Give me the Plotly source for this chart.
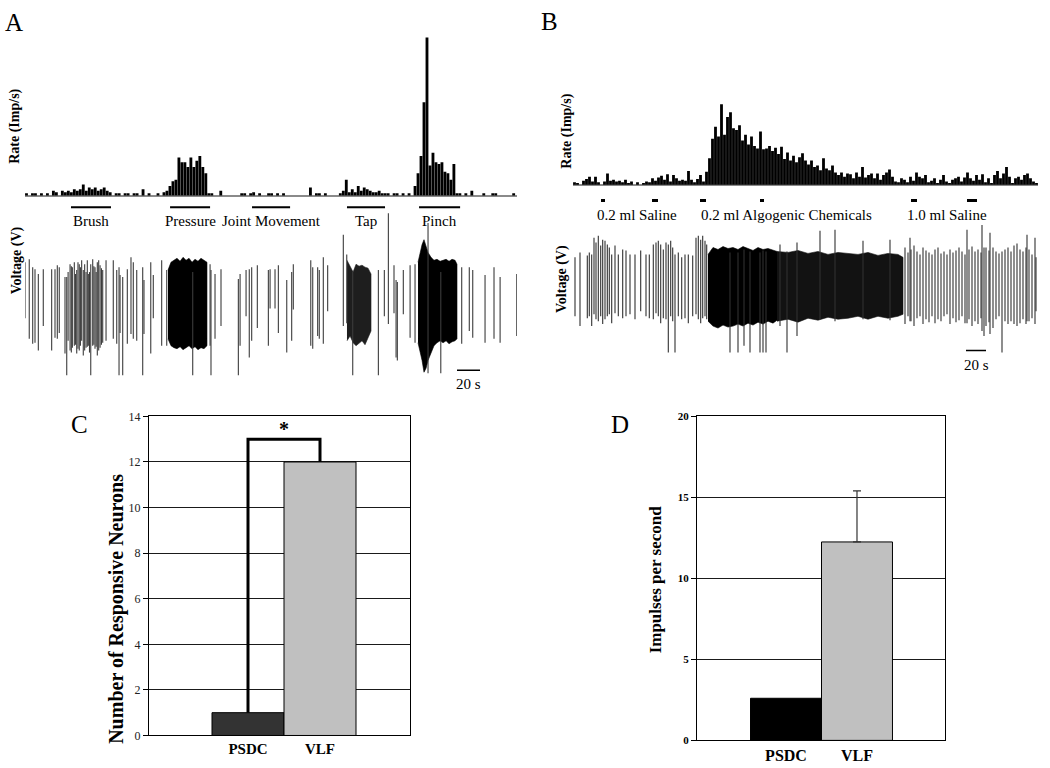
import plotly.graph_objects as go

W, H = 1050, 768
SERIF = "Liberation Serif"

# ---------------- DATA ----------------
# Panel A: rate histogram (relative units, peak = 100), bins of 2.6 s
a_bin_s = 2.6
a_rate = [1.5, 0, 1.5, 1.5, 0, 1.5, 0, 1.5, 0,
          3, 2, 0, 3, 2, 3, 2, 4, 3,
          4, 7, 3, 5, 4, 5, 3, 4, 5, 3, 2,
          0, 1.5, 1.5, 0, 1.5, 1.5, 0, 1.5, 1.5, 0,
          4, 0, 1.5, 0, 0, 1.5, 0,
          2, 3, 6, 9, 10,
          24, 21, 21, 18, 24, 18, 22, 25, 18, 14,
          1.5, 1.5, 0, 0, 3,
          0, 0, 0, 0, 0, 0,
          1.5, 1.5, 0, 1.5, 2, 0, 1.5, 0,
          0, 1.5, 1.5, 0, 1.5, 0, 1.5, 0,
          0, 0, 0, 0, 0, 0, 0,
          5, 0, 1.5, 1.5, 0, 1.5,
          0, 0, 0, 0, 1.5,
          3, 10, 2,
          4, 2, 6, 3, 5, 4, 3, 2,
          2, 3, 1.5,
          1.5, 1.5, 0, 1.5, 1.5, 0, 1.5, 0, 1.5, 0,
          6, 14, 25, 59, 100, 19, 27, 21, 20, 21, 15, 14, 10, 20, 1.5,
          1.5, 0, 1.5, 0, 3, 0, 0, 0, 1.5, 0, 0, 1.5, 1.5, 0, 0, 0, 0, 0, 1.5]
a_stim_names = ["Brush", "Pressure", "Joint Movement", "Tap", "Pinch"]
a_stim_start = [40.0, 126.2, 197.5, 280.1, 342.8]
a_stim_end = [74.8, 161.0, 230.6, 313.2, 378.5]

# Panel A: voltage trace, individual spikes (time s, top, bottom; arbitrary units)
a_spike_t = [0, 3.7, 6.7, 8.7, 11.6, 15.9, 23.2, 26.1, 28.1, 29.8, 34.8, 36.3, 37.5, 39.2, 40.3, 41.2,
             42.9, 44.0, 45.0, 46.1, 47.2, 48.2, 49.3, 50.7, 51.9, 53.1, 54.2, 55.1, 56.1, 57.2, 58.9,
             59.9, 60.9, 61.9, 62.9, 64.1, 65.3, 66.5, 67.6, 70.5, 76.8, 79.8, 81.8, 82.7, 85.0, 89.0,
             92.2, 94.2, 97.2, 102.4, 103.5, 109.4, 111.6, 118.9, 123.3, 145.9, 161.0, 161.8, 165.3,
             170.5, 185.6, 187.1, 192.3, 195.1, 197.2, 202.1, 211.7, 213.2, 217.5, 220.4, 227.7, 232.0,
             233.4, 248.6, 250.3, 254.6, 256.0, 259.5, 263.3, 276.9, 279.9, 285.1, 307.4, 312.6, 316.1,
             321.0, 322.8, 323.9, 329.1, 335.0, 339.3, 350.6, 361.7, 379.9, 386.5, 389.5, 400.2, 408.0,
             413.3, 427.8]
a_spike_top = [40, 43, 35, 33, 28, 33, 33, 33, 37, 35, 25, 25, 30, 38, 36, 35,
               40, 28, 32, 40, 38, 35, 42, 32, 38, 30, 42, 28, 30, 38, 43,
               36, 35, 30, 40, 42, 37, 34, 32, 42, 42, 32, 35, 27, 25, 33,
               45, 40, 32, 35, 22, 40, 27, 42, 32, 30, 38, 32, 28,
               33, 23, 28, 32, 33, 35, 37, 32, 33, 33, 37, 22, 30,
               38, 42, 35, 35, 32, 45, 37, 68, 48, 30, 32, 32, 90,
               37, 22, 20, 32, 37, 38, 80, 30, 35, 35, 32, 27, 35,
               25, 28]
a_spike_bot = [-17, -38, -43, -42, -50, -25, -50, -37, -38, -32, -53, -75, -40, -50, -52, -47,
               -45, -44, -53, -48, -50, -45, -40, -55, -50, -47, -46, -45, -52, -75, -45,
               -44, -48, -46, -55, -50, -47, -44, -42, -40, -38, -43, -75, -32, -75, -43,
               -33, -38, -40, -75, -33, -53, -17, -45, -45, -75, -45, -75, -38,
               -25, -75, -45, -15, -57, -40, -27, -45, -7, -7, -32, -52, -40,
               -8, -45, -48, -35, -38, -43, -10, -25, -22, -75, -75, -15, -23,
               -12, -57, -60, -13, -37, -42, -73, -73, -43, -30, -37, -42, -38,
               -42, -35]
# Panel A: dense bursts (envelopes)
a_press_t = [124.4, 127.0, 129.6, 132.2, 134.9, 137.5, 140.1, 142.7, 145.3, 147.9, 150.5, 153.1, 155.7, 158.3]
a_press_top = [32, 40, 42, 44, 41, 45, 42, 44, 40, 43, 41, 44, 42, 40]
a_press_bot = [-38, -45, -47, -48, -46, -49, -47, -45, -48, -46, -49, -47, -48, -45]
a_tap_t = [280.1, 282.8, 285.4, 288.0, 290.6, 293.2, 295.8, 298.4, 301.0]
a_tap_top = [42, 36, 30, 38, 36, 37, 35, 34, 28]
a_tap_bot = [-40, -35, -42, -45, -43, -40, -44, -38, -30]
a_pinch_t = [341.9, 343.7, 345.4, 347.1, 348.9, 350.6, 353.2, 355.8, 358.4, 361.1, 363.7, 366.3, 368.9, 371.5, 374.1, 375.8]
a_pinch_top = [40, 50, 58, 63, 57, 50, 45, 42, 43, 41, 42, 43, 41, 43, 42, 38]
a_pinch_bot = [-42, -52, -60, -72, -68, -60, -52, -45, -42, -40, -42, -40, -43, -41, -40, -38]
a_scale_s = 20
a_scale_t0 = 375.8

# Panel B: rate histogram, bins of 3 s
b_bin_s = 3
b_rate = [3, 2, 0, 5, 7, 10, 4, 10, 3, 0, 4, 14, 5, 6, 4, 5, 3, 6, 2, 4, 0, 3, 0, 2, 4,
          3, 8, 5, 9, 11, 6, 13, 4, 12, 8, 5, 6, 5, 17, 6, 3, 7, 12, 4, 16,
          33, 57, 72, 60, 100, 62, 84, 90, 70, 68, 74, 55, 62, 50, 60, 48, 45, 66, 44, 45,
          48, 42, 46, 38, 47, 32, 40, 30, 36, 28, 34,
          39, 30, 25, 30, 22, 24, 18, 33, 20, 18, 24, 15, 12, 15, 10, 14, 13, 8, 15, 10,
          22, 9, 12, 14, 8, 14, 6, 12, 15, 19, 10, 4, 3, 8, 6, 3, 10, 5, 15, 10,
          8, 12, 3, 5, 8, 2, 6, 12, 4, 2, 6, 8, 10, 4, 9, 15, 8, 5, 12, 6,
          13, 3, 8, 2, 12, 17, 8, 14, 22, 10, 2, 8, 10, 6, 12, 14, 8, 4, 2]
b_inj_start = [28, 79, 127, 187, 338, 394]
b_inj_end = [32, 85, 133, 191, 344, 404]
b_inj_names = ["0.2 ml Saline", "0.2 ml Algogenic Chemicals", "1.0 ml Saline"]
b_inj_label_t = [64, 213, 374]

# Panel B: voltage trace spikes
b_spike_t = [2, 7, 14.3, 16.3, 18.7, 21, 23, 25.3, 27.7, 29.7, 32, 34.3, 36.3, 38.7, 42, 45.3, 49.7, 53,
             57, 62, 67.7, 73, 76.3, 80.3, 83, 85.3, 87.7, 90.3, 93, 95.3, 97.7, 99.7, 102, 105.3,
             108.7, 112, 115.3, 119.7, 123, 125.3, 127.7, 129.7, 132, 133.7,
             157, 165, 171, 177, 187, 190, 193, 207, 214, 224, 247, 262, 290, 317, 337,
             332, 335, 338, 341, 344, 347, 350, 353, 356, 359, 362, 365, 368, 371, 374, 377, 380,
             383, 386, 389, 392, 394, 396, 399, 402, 405, 408, 409, 411, 413, 416, 417, 420, 423,
             426, 429, 432, 435, 438, 441, 444, 447, 450, 453, 454, 456, 459, 462, 463]
b_spike_top = [30, 35, 32, 35, 33, 50, 45, 52, 42, 48, 47, 43, 40, 33, 42, 33, 38, 37,
               33, 33, 37, 33, 33, 43, 45, 47, 43, 38, 45, 43, 47, 40, 33, 35,
               30, 33, 33, 32, 50, 52, 48, 52, 47, 43,
               35, 35, 38, 36, 35, 37, 36, 43, 36, 45, 57, 58, 47, 48, 50,
               40, 35, 38, 42, 36, 33, 40, 37, 35, 33, 38, 40, 34, 36, 33, 38, 35,
               37, 40, 36, 33, 58, 38, 41, 36, 38, 35, 63, 40, 40, 37, 55, 40, 36,
               34, 36, 38, 40, 36, 42, 44, 38, 36, 40, 53, 38, 33, 50, 30]
b_spike_bot = [-30, -40, -32, -30, -40, -28, -33, -35, -30, -38, -33, -30, -28, -37, -27, -30, -32, -30,
               -28, -33, -25, -30, -32, -33, -27, -30, -37, -32, -33, -67, -30, -35, -67, -30,
               -33, -32, -37, -30, -28, -33, -37, -32, -30, -33,
               -67, -67, -60, -67, -67, -67, -67, -40, -67, -50, -33, -35, -33, -34, -35,
               -38, -30, -35, -40, -32, -30, -38, -33, -36, -30, -37, -33, -35, -30, -28, -38, -32,
               -36, -34, -30, -37, -37, -33, -40, -35, -38, -32, -45, -50, -40, -36, -48, -42, -33,
               -30, -67, -35, -38, -35, -38, -40, -37, -33, -38, -35, -35, -32, -38, -25]
b_burst1_t = [135, 140, 145, 150, 155, 160, 165, 170, 175, 180, 185, 190, 195, 200, 204]
b_burst1_top = [33, 40, 38, 41, 39, 40, 38, 41, 39, 37, 40, 38, 39, 37, 36]
b_burst1_bot = [-35, -40, -42, -39, -41, -40, -38, -40, -37, -39, -36, -38, -35, -37, -34]
b_burst2_t = [204, 215, 225, 235, 245, 255, 265, 275, 285, 295, 305, 315, 325, 330]
b_burst2_top = [36, 35, 37, 34, 36, 33, 35, 34, 33, 35, 32, 34, 33, 30]
b_burst2_bot = [-35, -33, -36, -32, -34, -31, -33, -32, -30, -33, -30, -32, -30, -28]
b_scale_s = 20
b_scale_t0 = 393

# Panel C
c_categories = ["PSDC", "VLF"]
c_values = [1, 12]
c_colors = ["#333333", "#c0c0c0"]
c_yticks = [0, 2, 4, 6, 8, 10, 12, 14]

# Panel D
d_categories = ["PSDC", "VLF"]
d_values = [2.6, 12.25]
d_err_plus = [0, 3.15]
d_colors = ["#000000", "#c0c0c0"]
d_yticks = [0, 5, 10, 15, 20]


# ---------------- helpers ----------------
def xd(p0, p1):
    return [p0 / W, p1 / W]


def yd(top, bot):
    return [1 - bot / H, 1 - top / H]


def px(x):
    return x / W


def py(y):
    return 1 - y / H


def spikes_xy(t, top, bot):
    xs, ys = [], []
    for ti, a, b in zip(t, top, bot):
        xs += [ti, ti, None]
        ys += [a, b, None]
    return xs, ys


def envelope(t, top, bot):
    return list(t) + list(t[::-1]), list(top) + list(bot[::-1])


fig = go.Figure()

# ---- Panel A histogram ----
fig.add_trace(go.Bar(x=[(i + 0.5) * a_bin_s for i in range(len(a_rate))], y=a_rate,
                     width=a_bin_s * 0.95, marker=dict(color="black", line=dict(width=0)),
                     xaxis="x", yaxis="y"))
sx, sy = [], []
for s, e in zip(a_stim_start, a_stim_end):
    sx += [s, e, None]
    sy += [-8, -8, None]
fig.add_trace(go.Scatter(x=sx, y=sy, mode="lines", line=dict(color="black", width=4),
                         xaxis="x", yaxis="y"))

# ---- Panel A voltage ----
for t, tp, bt, col in [(a_press_t, a_press_top, a_press_bot, "black"),
                       (a_tap_t, a_tap_top, a_tap_bot, "#1e1e1e"),
                       (a_pinch_t, a_pinch_top, a_pinch_bot, "black")]:
    ex, ey = envelope(t, tp, bt)
    fig.add_trace(go.Scatter(x=ex, y=ey, fill="toself", fillcolor=col, mode="lines",
                             line=dict(color=col, width=0.6), xaxis="x2", yaxis="y2"))
vx, vy = spikes_xy(a_spike_t, a_spike_top, a_spike_bot)
fig.add_trace(go.Scatter(x=vx, y=vy, mode="lines", line=dict(color="#3c3c3c", width=1.1),
                         xaxis="x2", yaxis="y2"))
fig.add_trace(go.Scatter(x=[a_scale_t0, a_scale_t0 + a_scale_s], y=[-70, -70], mode="lines",
                         line=dict(color="black", width=1.5), xaxis="x2", yaxis="y2"))

# ---- Panel B histogram ----
fig.add_trace(go.Bar(x=[(i + 0.5) * b_bin_s for i in range(len(b_rate))], y=b_rate,
                     width=b_bin_s * 0.94, marker=dict(color="black", line=dict(width=0)),
                     xaxis="x3", yaxis="y3"))
ix, iy = [], []
for s, e in zip(b_inj_start, b_inj_end):
    ix += [s, e, None]
    iy += [-19.5, -19.5, None]
fig.add_trace(go.Scatter(x=ix, y=iy, mode="lines", line=dict(color="black", width=3),
                         xaxis="x3", yaxis="y3"))

# ---- Panel B voltage ----
for t, tp, bt, col in [(b_burst1_t, b_burst1_top, b_burst1_bot, "black"),
                       (b_burst2_t, b_burst2_top, b_burst2_bot, "#121212")]:
    ex, ey = envelope(t, tp, bt)
    fig.add_trace(go.Scatter(x=ex, y=ey, fill="toself", fillcolor=col, mode="lines",
                             line=dict(color=col, width=0.6), xaxis="x4", yaxis="y4"))
vx, vy = spikes_xy(b_spike_t, b_spike_top, b_spike_bot)
fig.add_trace(go.Scatter(x=vx, y=vy, mode="lines", line=dict(color="#303030", width=1.1),
                         xaxis="x4", yaxis="y4"))
fig.add_trace(go.Scatter(x=[b_scale_t0, b_scale_t0 + b_scale_s], y=[-65, -65], mode="lines",
                         line=dict(color="black", width=1.5), xaxis="x4", yaxis="y4"))

# ---- Panel C ----
for i, (v, c) in enumerate(zip(c_values, c_colors)):
    fig.add_trace(go.Bar(x=[i], y=[v], width=1, marker=dict(color=c, line=dict(color="black", width=1)),
                         xaxis="x5", yaxis="y5"))
lvl = max(c_values) + 1
fig.add_trace(go.Scatter(x=[0, 0, 1, 1], y=[c_values[0], lvl, lvl, c_values[1]], mode="lines",
                         line=dict(color="black", width=3), xaxis="x5", yaxis="y5"))

# ---- Panel D ----
for i, (v, c, e) in enumerate(zip(d_values, d_colors, d_err_plus)):
    kw = {}
    if e > 0:
        kw["error_y"] = dict(type="data", symmetric=False, array=[e], arrayminus=[0],
                             color="#333333", thickness=1.2, width=4)
    fig.add_trace(go.Bar(x=[i], y=[v], width=1, marker=dict(color=c, line=dict(color="black", width=1)),
                         xaxis="x6", yaxis="y6", **kw))

hidden = dict(visible=False)
fig.update_layout(
    width=W, height=H, margin=dict(l=0, r=0, t=0, b=0),
    paper_bgcolor="white", plot_bgcolor="white", showlegend=False,
    barmode="overlay", hovermode=False,
    xaxis=dict(domain=xd(25, 517), range=[0, 428], **hidden),
    yaxis=dict(domain=yd(27.8, 224.2), range=[-20, 102], showgrid=False, showticklabels=False,
               zeroline=True, zerolinecolor="#8a8a8a", zerolinewidth=2, ticks=""),
    xaxis2=dict(domain=xd(25, 517), range=[0, 428], **hidden),
    yaxis2=dict(domain=yd(205, 380), range=[-80, 95], **hidden),
    xaxis3=dict(domain=xd(573, 1038), range=[0, 465], **hidden),
    yaxis3=dict(domain=yd(94.9, 217.9), range=[-45, 105], showgrid=False, showticklabels=False,
                zeroline=True, zerolinecolor="#8a8a8a", zerolinewidth=2, ticks=""),
    xaxis4=dict(domain=xd(573, 1038), range=[0, 465], **hidden),
    yaxis4=dict(domain=yd(215, 365), range=[-80, 70], **hidden),
    xaxis5=dict(domain=xd(149, 410), range=[-1.375, 2.25], tickvals=[0, 1], ticktext=c_categories,
                showgrid=False, zeroline=False, showline=True, linecolor="black", linewidth=1,
                mirror=True, ticks="", anchor="y5",
                tickfont=dict(family=SERIF, size=15, color="black", weight="bold")),
    yaxis5=dict(domain=yd(417, 742), range=[0, 14], tickvals=c_yticks, showgrid=True,
                gridcolor="#1a1a1a", gridwidth=1, zeroline=False, showline=True, linecolor="black",
                linewidth=1, mirror=True, ticks="outside", ticklen=5, tickcolor="black", anchor="x5",
                tickfont=dict(family=SERIF, size=12, color="#222222")),
    xaxis6=dict(domain=xd(697, 945), range=[-1.254, 2.24], tickvals=[0, 1], ticktext=d_categories,
                showgrid=False, zeroline=False, showline=True, linecolor="black", linewidth=1,
                mirror=True, ticks="", anchor="y6",
                tickfont=dict(family=SERIF, size=16, color="black", weight="bold")),
    yaxis6=dict(domain=yd(417, 747), range=[0, 20], tickvals=d_yticks, showgrid=True,
                gridcolor="#1a1a1a", gridwidth=1, zeroline=False, showline=True, linecolor="black",
                linewidth=1, mirror=True, ticks="outside", ticklen=5, tickcolor="black", anchor="x6",
                tickfont=dict(family=SERIF, size=11, color="black", weight="bold")),
)

ann = []


def text(x, y, s, size=14, bold=False, angle=0, xref="paper", yref="paper", xanchor="center",
         yanchor="middle"):
    ann.append(dict(x=x, y=y, xref=xref, yref=yref, text=("<b>%s</b>" % s) if bold else s,
                    showarrow=False, textangle=angle, xanchor=xanchor, yanchor=yanchor,
                    font=dict(family=SERIF, size=size, color="black")))


# panel letters
text(px(14), py(16), "A", size=25)
text(px(549), py(15), "B", size=25)
text(px(79), py(425), "C", size=25)
text(px(620), py(425), "D", size=25)

# A labels
text(px(15), py(122), "Rate (Imp/s)", size=14, bold=True, angle=-90)
text(px(17), py(258), "Voltage (V)", size=14, bold=True, angle=-90)
for n, s, e in zip(a_stim_names, a_stim_start, a_stim_end):
    text((s + e) / 2, -16, n, size=15, xref="x", yref="y")
text(a_scale_t0 + a_scale_s / 2, -74, "20 s", size=15, xref="x2", yref="y2", yanchor="top")

# B labels
text(px(567), py(127), "Rate (Imp/s)", size=14, bold=True, angle=-90)
text(px(562), py(277), "Voltage (V)", size=14, bold=True, angle=-90)
for n, t in zip(b_inj_names, b_inj_label_t):
    text(t, -38, n, size=15, xref="x3", yref="y3")
text(b_scale_t0 + b_scale_s / 2, -69, "20 s", size=15, xref="x4", yref="y4", yanchor="top")

# C labels
text(px(117), py(613), "Number of Responsive Neurons", size=20, bold=True, angle=-90)
text(0.5, lvl + 0.45, "*", size=20, bold=True, xref="x5", yref="y5")

# D labels
text(px(655), py(583), "Impulses per second", size=17, bold=True, angle=-90)

fig.update_layout(annotations=ann)
fig.write_html("out.html", config={"displayModeBar": False, "staticPlot": True},
               post_script="document.body.style.margin='0px';document.body.style.overflow='hidden';")
